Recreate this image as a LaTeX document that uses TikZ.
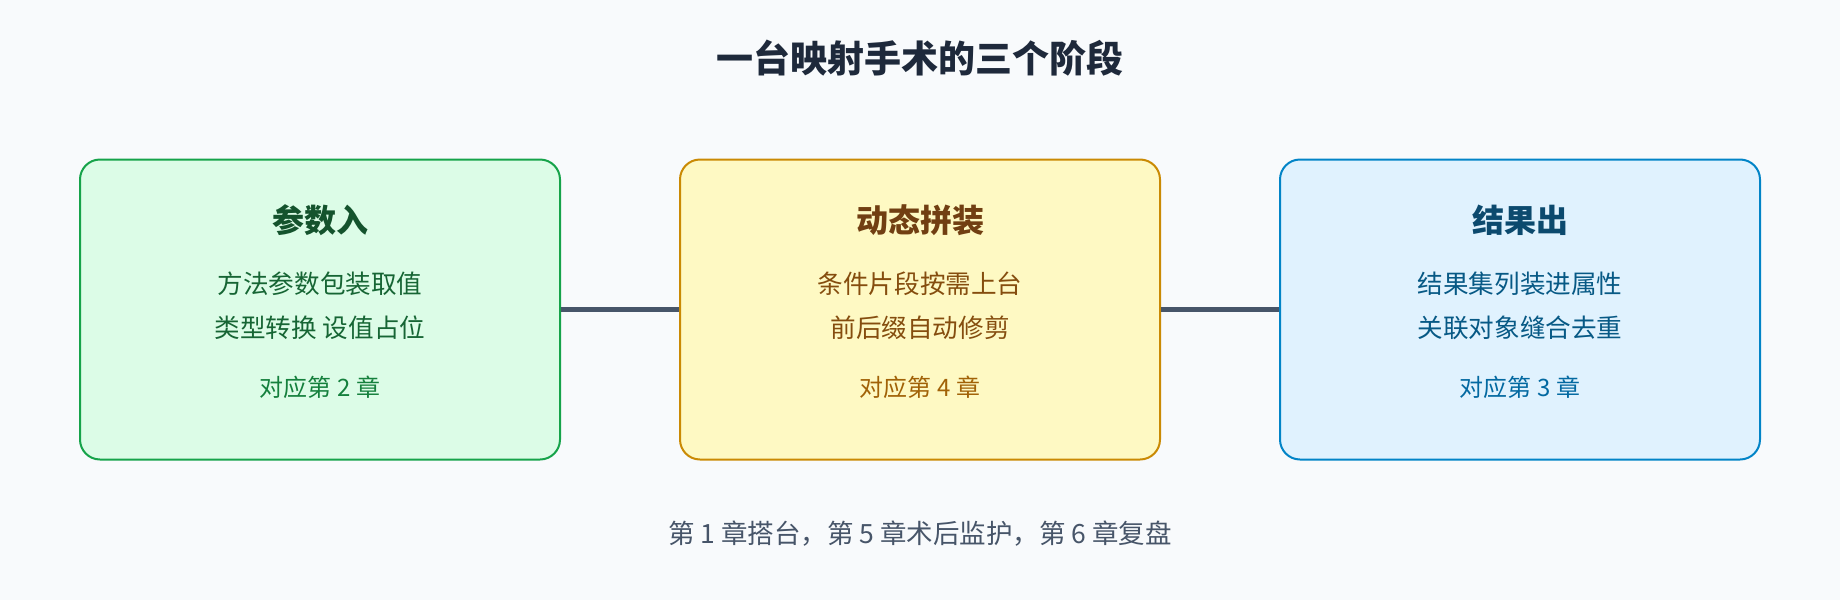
\documentclass[tikz,border=0pt]{standalone}
\usepackage{fontspec}
\setmainfont{Noto Sans CJK SC}
\newfontfamily\cjk{Noto Sans CJK SC}
\definecolor{bgc}{HTML}{F8FAFC}
\definecolor{titlec}{HTML}{1E293B}
\definecolor{linkc}{HTML}{475569}
\definecolor{gfill}{HTML}{DCFCE7}
\definecolor{gdraw}{HTML}{16A34A}
\definecolor{ghead}{HTML}{14532D}
\definecolor{gtext}{HTML}{166534}
\definecolor{gchap}{HTML}{15803D}
\definecolor{yfill}{HTML}{FEF9C3}
\definecolor{ydraw}{HTML}{CA8A04}
\definecolor{yhead}{HTML}{713F12}
\definecolor{ytext}{HTML}{854D0E}
\definecolor{ychap}{HTML}{A16207}
\definecolor{bfill}{HTML}{E0F2FE}
\definecolor{bdraw}{HTML}{0284C7}
\definecolor{bhead}{HTML}{0C4A6E}
\definecolor{btext}{HTML}{075985}
\definecolor{bchap}{HTML}{0369A1}
\tikzset{
  stagebox/.style={draw, line width=2pt, rounded corners=20pt, minimum width=480pt, minimum height=300pt, inner sep=0pt},
  headtxt/.style={font=\cjk\bfseries\fontsize{32}{36}\selectfont, inner sep=0pt},
  linetxt/.style={font=\cjk\fontsize{25.6}{30}\selectfont, inner sep=0pt},
  chaptxt/.style={font=\cjk\fontsize{24}{28}\selectfont, inner sep=0pt},
  foottxt/.style={font=\cjk\fontsize{26.5}{30}\selectfont, inner sep=0pt},
  link/.style={draw=linkc, line width=5.5pt},
}
\begin{document}
\begin{tikzpicture}[x=1pt,y=-1pt]
\fill[bgc] (0,0) rectangle (1840,600);
\useasboundingbox (0,0) rectangle (1840,600);
\node[font=\cjk\bfseries\fontsize{37}{44}\selectfont, text=titlec, inner sep=0pt] (title) at (920,58) {一台映射手术的三个阶段};
\node[stagebox, fill=gfill, draw=gdraw] (b1) at (320,309.5) {};
\node[stagebox, fill=yfill, draw=ydraw] (b2) at (920,309.5) {};
\node[stagebox, fill=bfill, draw=bdraw] (b3) at (1520,309.5) {};
\draw[link] (b1.east) -- (b2.west);
\draw[link] (b2.east) -- (b3.west);
% box 1
\node[headtxt, text=ghead] (b1h) at (320,220) {参数入};
\node[linetxt, text=gtext] (b1a) at (320,284) {方法参数包装取值};
\node[linetxt, text=gtext] (b1b) at (320,328) {类型转换 设值占位};
\node[chaptxt, text=gchap] (b1c) at (320,387) {对应第 2 章};
% box 2
\node[headtxt, text=yhead] (b2h) at (920,220) {动态拼装};
\node[linetxt, text=ytext] (b2a) at (920,284) {条件片段按需上台};
\node[linetxt, text=ytext] (b2b) at (920,328) {前后缀自动修剪};
\node[chaptxt, text=ychap] (b2c) at (920,387) {对应第 4 章};
% box 3
\node[headtxt, text=bhead] (b3h) at (1520,220) {结果出};
\node[linetxt, text=btext] (b3a) at (1520,284) {结果集列装进属性};
\node[linetxt, text=btext] (b3b) at (1520,328) {关联对象缝合去重};
\node[chaptxt, text=bchap] (b3c) at (1520,387) {对应第 3 章};
% footer
\node[foottxt, text=linkc] (foot) at (920,534) {第 1 章搭台，第 5 章术后监护，第 6 章复盘};
\end{tikzpicture}
\end{document}
